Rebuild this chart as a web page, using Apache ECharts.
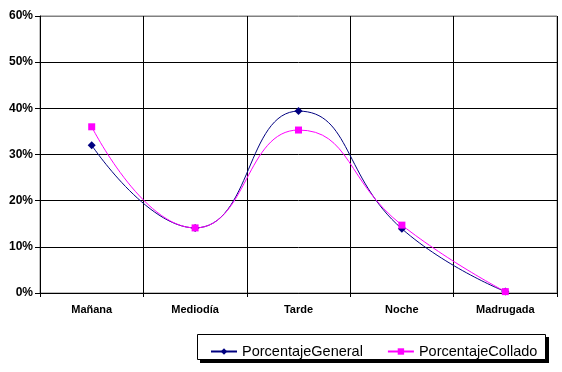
<!DOCTYPE html>
<html><head><meta charset="utf-8">
<script src="https://cdn.jsdelivr.net/npm/echarts@6/dist/echarts.min.js"></script>
<style>html,body{margin:0;padding:0;background:#fff}#c{width:562px;height:372px}</style>
</head><body><div id="c"></div>
<script>
const categories = ['Mañana', 'Mediodía', 'Tarde', 'Noche', 'Madrugada'];
const porcentajeGeneral = [32.0, 14.1, 39.4, 13.9, 0.3];
const porcentajeCollado = [36.0, 14.1, 35.3, 14.7, 0.3];
const yTicks = [0, 10, 20, 30, 40, 50, 60];

const chart = echarts.init(document.getElementById('c'), null, {renderer: 'canvas'});
chart.setOption({
  animation: false,
  backgroundColor: '#fff',
  grid: {left: 40, right: 5, top: 16, bottom: 79, show: true, borderColor: '#808080', borderWidth: 1, backgroundColor: 'transparent'},
  xAxis: {
    type: 'category', data: categories, boundaryGap: true,
    axisLine: {lineStyle: {color: '#000', width: 1}},
    axisTick: {show: true, length: 4, lineStyle: {color: '#000'}},
    splitLine: {show: true, lineStyle: {color: '#000', width: 1}},
    axisLabel: {color: '#000', fontFamily: 'Liberation Sans, Arial', fontWeight: 'bold', fontSize: 11, margin: 11}
  },
  yAxis: {
    type: 'value', min: yTicks[0], max: yTicks[yTicks.length - 1], interval: 10,
    axisLine: {show: true, lineStyle: {color: '#000', width: 1}},
    axisTick: {show: true, length: 5, lineStyle: {color: '#000'}},
    splitLine: {show: true, lineStyle: {color: ['#000', '#000', '#000', '#000', '#000', '#000', '#808080'], width: 1}},
    axisLabel: {color: '#000', fontFamily: 'Liberation Sans, Arial', fontWeight: 'bold', fontSize: 12, margin: 7, formatter: v => v + '%'}
  },
  legend: {
    left: 205, top: 339, itemWidth: 26, itemHeight: 8, itemGap: 24,
    textStyle: {color: '#000', fontFamily: 'Liberation Sans, Arial', fontSize: 14.5},
    data: ['PorcentajeGeneral', 'PorcentajeCollado']
  },
  graphic: [
    {type: 'rect', shape: {x: 200, y: 337, width: 349, height: 26}, style: {fill: '#000'}, z: -2},
    {type: 'rect', shape: {x: 197.5, y: 334.5, width: 348, height: 25}, style: {fill: '#fff', stroke: '#000', lineWidth: 1}, z: -1}
  ],
  series: [
    {name: 'PorcentajeGeneral', type: 'line', data: porcentajeGeneral, smooth: 0.5,
      symbol: 'diamond', symbolSize: 8, itemStyle: {color: '#000080'}, lineStyle: {color: '#000080', width: 1}},
    {name: 'PorcentajeCollado', type: 'line', data: porcentajeCollado, smooth: 0.5,
      symbol: 'rect', symbolSize: 7, itemStyle: {color: '#FF00FF'}, lineStyle: {color: '#FF00FF', width: 1}}
  ]
});
</script></body></html>
